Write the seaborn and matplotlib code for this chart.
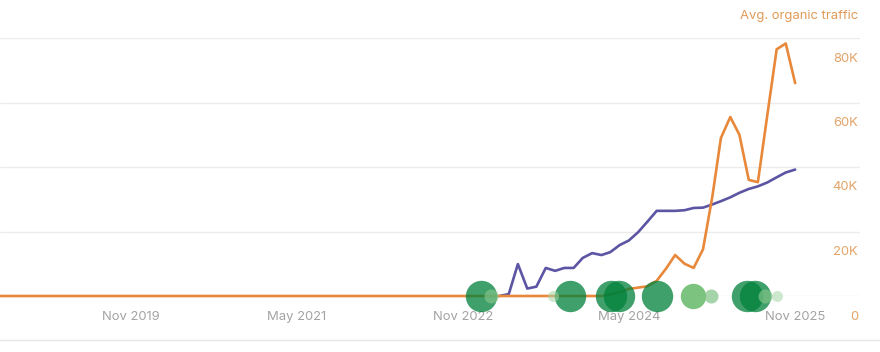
import pandas as pd
import numpy as np
import matplotlib
matplotlib.use('Agg')
import matplotlib.pyplot as plt
import matplotlib.transforms as mtransforms
from matplotlib.lines import Line2D
import seaborn as sns

# avg. organic traffic (flat at 0 until early 2024)
traffic_dates = ['2018-06-01', '2024-02-01', '2024-03-01', '2024-04-01', '2024-05-01',
                 '2024-06-01', '2024-07-01', '2024-08-01', '2024-09-01', '2024-10-01',
                 '2024-11-01', '2024-12-01', '2025-01-01', '2025-02-01', '2025-03-01',
                 '2025-04-01', '2025-05-01', '2025-06-01', '2025-07-01', '2025-08-01',
                 '2025-09-01', '2025-10-01', '2025-11-01']
traffic_k = [0, 0, 0.5, 1.2, 2.2, 2.6, 3.0, 4.7, 8.5, 12.7, 10.0, 8.7, 14.5, 31.0,
             49.0, 55.5, 50.0, 36.0, 35.3, 56.0, 76.5, 78.3, 66.0]

# second (purple) series, monthly from Mar 2023
second_dates = pd.date_range('2023-03-01', '2025-11-01', freq='MS')
second_k = [0, 0.6, 9.9, 2.3, 2.9, 8.7, 7.8, 8.7, 8.7, 11.8, 13.3, 12.7, 13.6, 15.8,
            17.2, 19.8, 23.0, 26.4, 26.4, 26.4, 26.6, 27.3, 27.4, 28.4, 29.4, 30.6,
            32.0, 33.2, 34.0, 35.2, 36.8, 38.3, 39.2]

# update markers on the zero line
update_dates = ['2022-12-30', '2023-02-01', '2023-08-25', '2023-10-20', '2024-03-04',
                '2024-03-30', '2024-08-02', '2024-11-29', '2025-01-27', '2025-05-26',
                '2025-06-22', '2025-07-25', '2025-09-02']
update_kind = ['core', 'small', 'faint', 'core', 'core', 'core', 'core', 'medium',
               'small', 'core', 'core', 'small', 'faint']

xtick_dates = ['2019-11-01', '2021-05-01', '2022-11-01', '2024-05-01', '2025-11-01']
xtick_labels = ['Nov 2019', 'May 2021', 'Nov 2022', 'May 2024', 'Nov 2025']
ytick_vals = [0, 20, 40, 60, 80]
ytick_labels = ['0', '20K', '40K', '60K', '80K']

traffic = pd.DataFrame({'date': pd.to_datetime(traffic_dates), 'value': np.array(traffic_k) * 1000})
second = pd.DataFrame({'date': second_dates, 'value': np.array(second_k) * 1000})
updates = pd.DataFrame({'date': pd.to_datetime(update_dates), 'kind': update_kind})
updates['value'] = 0

sns.set_style('white')
plt.rcParams['font.family'] = ['Inter', 'DejaVu Sans']

fig = plt.figure(figsize=(8.8, 3.52), dpi=100)
ax = fig.add_axes([0, 56 / 352, 860 / 880, 258 / 352])

sns.lineplot(data=second, x='date', y='value', ax=ax, color='#5b55a3', lw=1.9, clip_on=False)
sns.lineplot(data=traffic, x='date', y='value', ax=ax, color='#e8883a', lw=1.9, clip_on=False)

kind_style = {
    'core': ('#00803a', 0.75, 511),
    'medium': ('#51af55', 0.75, 334),
    'small': ('#80c387', 0.7, 102),
    'faint': ('#a5d6a7', 0.55, 63),
}
for kind, (col, a, s) in kind_style.items():
    sub = updates[updates['kind'] == kind]
    sns.scatterplot(data=sub, x='date', y='value', ax=ax, color=col, alpha=a, s=s,
                    linewidth=0, zorder=3, clip_on=False)

ax.set_xlim(pd.Timestamp('2018-08-26'), pd.Timestamp('2026-06-03'))
ax.set_ylim(0, 80000)
ax.set_xlabel('')
ax.set_ylabel('')
for sp in ax.spines.values():
    sp.set_visible(False)

ax.set_xticks(pd.to_datetime(xtick_dates))
ax.set_xticklabels(xtick_labels, color='#a3a3a3', fontsize=9.4)
ax.tick_params(axis='x', length=0, pad=11)

ax.yaxis.tick_right()
ax.set_yticks(np.array(ytick_vals) * 1000)
ax.set_yticklabels(ytick_labels, color='#e3a468', fontsize=9.4)
ax.tick_params(axis='y', length=0, pad=-1.5)
ax.yaxis.grid(True, color='#ececec', lw=1)
ax.xaxis.grid(False)
shift = mtransforms.ScaledTranslation(0, -19 / 100, fig.dpi_scale_trans)
for lab in ax.get_yticklabels():
    lab.set_horizontalalignment('right')
    lab.set_transform(lab.get_transform() + shift)

fig.text(858 / 880, 1 - 16 / 352, 'Avg. organic traffic', ha='right', va='center',
         color='#e09a58', fontsize=9.4)
fig.add_artist(Line2D([0, 1], [12 / 352, 12 / 352], transform=fig.transFigure,
                      color='#e8e8e8', lw=1))

fig.savefig('out.png', dpi=100)
